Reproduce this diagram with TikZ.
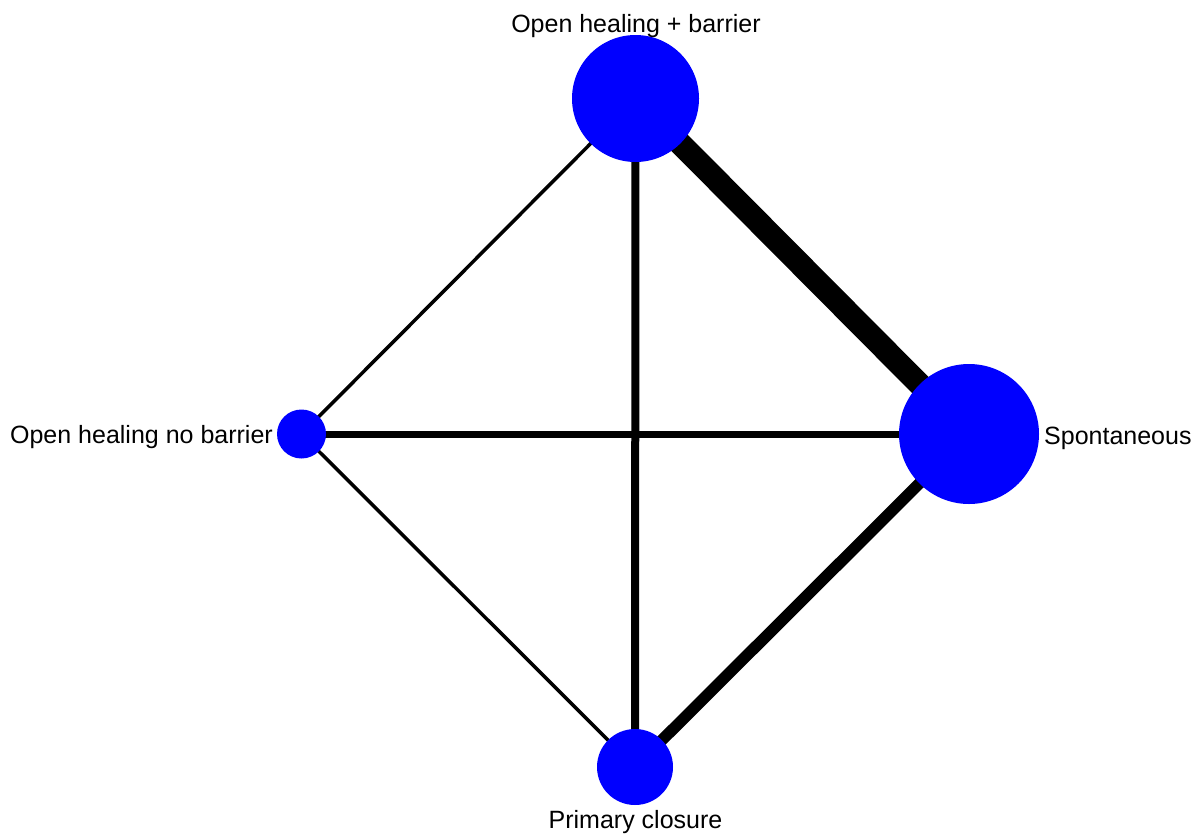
\documentclass[tikz,border=0pt]{standalone}
\usepackage{fontspec}
\setmainfont{Liberation Sans}
\definecolor{nodeblue}{RGB}{0,0,255}
\pgfdeclarelayer{background}
\pgfsetlayers{background,main}
\begin{document}
\begin{tikzpicture}[x=1pt,y=-1pt,
  trt/.style={circle,fill=nodeblue,inner sep=0pt,outer sep=0pt},
  lbl/.style={inner sep=0pt,font=\fontsize{25}{30}\selectfont},
  edge/.style={draw=black,line cap=butt}]
\useasboundingbox (0,0) rectangle (1200,836);
\node[trt,minimum size=127pt] (top) at (635.5,98.5) {};
\node[trt,minimum size=140pt] (right) at (969,434) {};
\node[trt,minimum size=49pt] (left) at (301.5,434) {};
\node[trt,minimum size=76pt] (bottom) at (635,767) {};
\begin{pgfonlayer}{background}
\draw[edge,line width=23pt] (top.center) -- (right.center);
\draw[edge,line width=8pt] (top.center) -- (bottom.center);
\draw[edge,line width=3.5pt] (top.center) -- (left.center);
\draw[edge,line width=7pt] (left.center) -- (right.center);
\draw[edge,line width=3.5pt] (left.center) -- (bottom.center);
\draw[edge,line width=11.5pt] (right.center) -- (bottom.center);
\end{pgfonlayer}
\node[lbl,anchor=base] (ltop) at (636,32) {Open healing + barrier};
\node[lbl,anchor=base west] (lright) at (1044,444) {Spontaneous};
\node[lbl,anchor=base east] (lleft) at (273,443) {Open healing no barrier};
\node[lbl,anchor=base] (lbottom) at (635.5,828) {Primary closure};
\end{tikzpicture}
\end{document}
